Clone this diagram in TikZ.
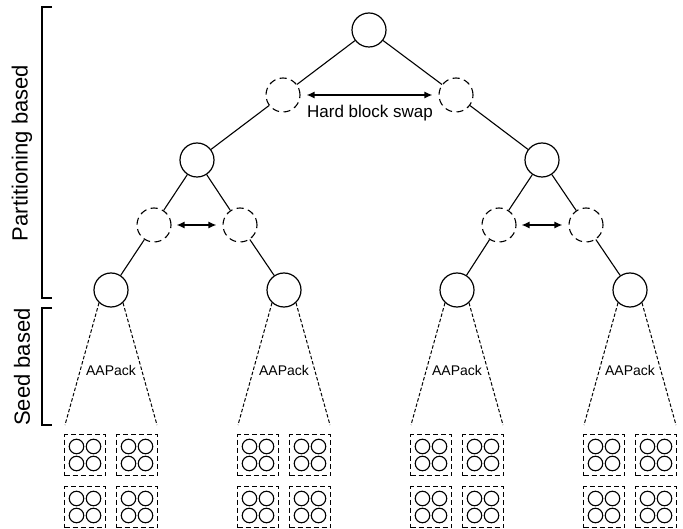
\documentclass[tikz,border=0pt]{standalone}
\usepackage{fontspec}
\setmainfont{Liberation Sans}
\usetikzlibrary{arrows.meta}
\begin{document}
\begin{tikzpicture}[x=1pt,y=-1pt,
  solidc/.style={circle,draw,line width=1.2pt,minimum size=34pt,inner sep=0pt},
  dashc/.style={circle,draw,line width=1.1pt,dash pattern=on 7pt off 4.5pt,minimum size=34pt,inner sep=0pt},
  edge/.style={line width=1.1pt},
  swap/.style={line width=1.3pt,{Latex[length=8pt,width=7pt]}-{Latex[length=8pt,width=7pt]}},
  cone/.style={line width=1pt,dash pattern=on 3.5pt off 2pt},
  blk/.style={draw,line width=1pt,dash pattern=on 5pt off 3pt,minimum width=41pt,minimum height=41pt,inner sep=0pt},
  pe/.style={circle,draw,line width=1.1pt,minimum size=14.5pt,inner sep=0pt},
  brk/.style={line width=1.3pt},
  side/.style={font=\fontsize{22}{26}\selectfont,rotate=90},
  lbl/.style={font=\fontsize{14}{17}\selectfont},
  swaplbl/.style={font=\fontsize{17}{20}\selectfont}
]
\useasboundingbox (0,0) rectangle (683,529);

% brackets and side labels
\draw[brk] (52,7) -| (42,298) -- (52,298);
\draw[brk] (52,308) -| (42,425) -- (52,425);
\node[side] (pl) at (22,153) {Partitioning based};
\node[side] (sl) at (22,367) {Seed based};

% tree
\node[solidc] (r) at (369,30) {};
\node[dashc] (a1) at (283,95) {};
\node[dashc] (a2) at (456,95) {};
\node[solidc] (b1) at (197,160) {};
\node[solidc] (b2) at (542,160) {};
\node[dashc] (c1) at (154,225) {};
\node[dashc] (c2) at (240,225) {};
\node[dashc] (c3) at (499,225) {};
\node[dashc] (c4) at (586,225) {};
\node[solidc] (l1) at (111,290) {};
\node[solidc] (l2) at (284,290) {};
\node[solidc] (l3) at (457,290) {};
\node[solidc] (l4) at (630,290) {};

\draw[edge] (r) -- (a1);
\draw[edge] (r) -- (a2);
\draw[edge] (a1) -- (b1);
\draw[edge] (a2) -- (b2);
\draw[edge] (b1) -- (c1);
\draw[edge] (b1) -- (c2);
\draw[edge] (b2) -- (c3);
\draw[edge] (b2) -- (c4);
\draw[edge] (c1) -- (l1);
\draw[edge] (c2) -- (l2);
\draw[edge] (c3) -- (l3);
\draw[edge] (c4) -- (l4);

% swaps
\draw[swap] ([xshift=6pt]a1.east) -- ([xshift=-6pt]a2.west);
\node[swaplbl] (hbs) at (370,113) {Hard block swap};
\draw[swap] ([xshift=5pt]c1.east) -- ([xshift=-6pt]c2.west);
\draw[swap] ([xshift=5pt]c3.east) -- ([xshift=-6pt]c4.west);

% clusters
\foreach \g/\cx in {1/111,2/284,3/457,4/630}{
  \coordinate (cl\g) at (\cx-46,425);
  \coordinate (cr\g) at (\cx+46,425);
  \draw[cone] (l\g.-133) -- (cl\g);
  \draw[cone] (l\g.-47) -- (cr\g);
  \node[lbl] (aa\g) at (\cx,370) {AAPack};
  \foreach \r/\cy in {1/455,2/507}{
    \foreach \s/\dx in {1/-26,2/26}{
      \node[blk] (bx\g\r\s) at (\cx+\dx,\cy) {};
      \node[pe] (p\g\r\s-1) at (\cx+\dx-8.5,\cy-8.5) {};
      \node[pe] (p\g\r\s-2) at (\cx+\dx+8.5,\cy-8.5) {};
      \node[pe] (p\g\r\s-3) at (\cx+\dx-8.5,\cy+8.5) {};
      \node[pe] (p\g\r\s-4) at (\cx+\dx+8.5,\cy+8.5) {};
    }
  }
}
\end{tikzpicture}
\end{document}
